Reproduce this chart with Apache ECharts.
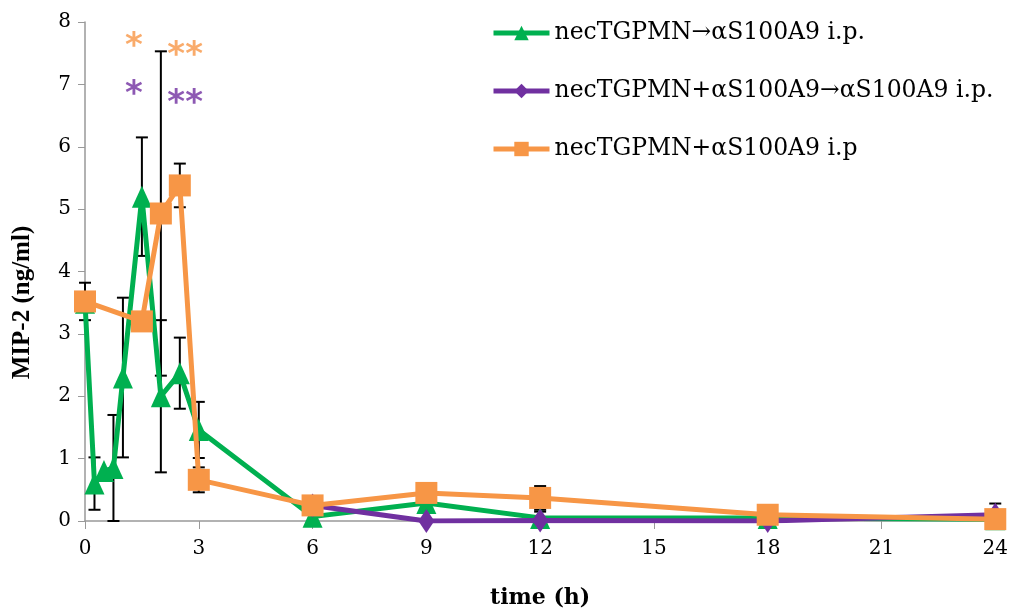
<!DOCTYPE html>
<html><head><meta charset="utf-8">
<script src="https://cdn.jsdelivr.net/npm/echarts@6/dist/echarts.min.js"></script>
<style>html,body{margin:0;padding:0;background:#fff}#c{width:1011px;height:614px}</style>
</head><body><div id="c"></div>
<script>
var seriesNames = ['necTGPMN→αS100A9 i.p.', 'necTGPMN+αS100A9→αS100A9 i.p.', 'necTGPMN+αS100A9 i.p'];
var greenTimes = [0, 0.25, 0.5, 0.75, 1, 1.5, 2, 2.5, 3, 6, 9, 12, 18, 24];
var greenVals  = [3.5, 0.6, 0.8, 0.85, 2.3, 5.2, 2.0, 2.37, 1.46, 0.07, 0.29, 0.05, 0.05, 0.03];
var greenErr   = [0, 0.42, 0, 0.85, 1.28, 0.95, 1.22, 0.57, 0.45, 0, 0, 0.1, 0, 0];
var purpleTimes = [6, 9, 12, 18, 24];
var purpleVals  = [0.25, 0.0, 0.01, 0.0, 0.1];
var purpleErr   = [0, 0, 0, 0, 0.18];
var orangeTimes = [0, 1.5, 2, 2.5, 3, 6, 9, 12, 18, 24];
var orangeVals  = [3.52, 3.2, 4.93, 5.38, 0.66, 0.25, 0.45, 0.37, 0.1, 0.03];
var orangeErr   = [0.3, 0, 2.6, 0.35, 0.2, 0, 0, 0.19, 0, 0];
var xTicks = [0, 3, 6, 9, 12, 15, 18, 21, 24];
var yTicks = [0, 1, 2, 3, 4, 5, 6, 7, 8];
var sigMarks = [
  {t: 1.29, v: 7.6, text: '*', color: '#F79646'},
  {t: 2.64, v: 7.45, text: '**', color: '#F79646'},
  {t: 1.29, v: 6.82, text: '*', color: '#7030A0'},
  {t: 2.64, v: 6.68, text: '**', color: '#7030A0'}
];
var colors = ['#00B050', '#7030A0', '#F79646'];
var FONT = 'DejaVu Serif';

function pts(t, v) { return t.map(function (x, i) { return [x, v[i]]; }); }
function errs(t, v, e) {
  var out = [];
  t.forEach(function (x, i) { if (e[i] > 0) out.push([x, v[i] - e[i], v[i] + e[i]]); });
  return out;
}
var errData = errs(greenTimes, greenVals, greenErr)
  .concat(errs(purpleTimes, purpleVals, purpleErr))
  .concat(errs(orangeTimes, orangeVals, orangeErr));

var chart = echarts.init(document.getElementById('c'), null, {renderer: 'canvas'});
chart.setOption({
  animation: false,
  backgroundColor: '#fff',
  color: colors,
  grid: {left: 85, right: 15, top: 22, bottom: 93},
  legend: {
    orient: 'vertical', left: 486, top: 16, itemWidth: 56, itemHeight: 18, itemGap: 34,
    data: seriesNames,
    lineStyle: {width: 5},
    textStyle: {fontFamily: FONT, fontSize: 23.5, color: '#000'}
  },
  xAxis: {
    type: 'value', min: 0, max: 24, interval: 3,
    name: 'time (h)', nameLocation: 'middle', nameGap: 66,
    nameTextStyle: {fontFamily: FONT, fontSize: 22, fontWeight: 'bold', color: '#000'},
    axisLine: {lineStyle: {color: '#999', width: 1.5}},
    axisTick: {show: true, inside: false, length: 8, lineStyle: {color: '#999'}},
    axisLabel: {fontFamily: FONT, fontSize: 20, color: '#000', margin: 18,
      formatter: function (v) { return xTicks.indexOf(v) >= 0 ? String(v) : ''; }},
    splitLine: {show: false}
  },
  yAxis: {
    type: 'value', min: 0, max: 8, interval: 1,
    name: 'MIP-2 (ng/ml)', nameLocation: 'middle', nameGap: 50, nameRotate: 90,
    nameTextStyle: {fontFamily: 'Liberation Serif', fontSize: 25, fontWeight: 'bold', color: '#000',
      padding: [0, 62, 0, 0]},
    axisLine: {show: true, lineStyle: {color: '#999', width: 1.5}},
    axisTick: {show: true, inside: false, length: 7, lineStyle: {color: '#999'}},
    axisLabel: {fontFamily: FONT, fontSize: 20, color: '#000', margin: 14,
      formatter: function (v) { return yTicks.indexOf(v) >= 0 ? String(v) : ''; }},
    splitLine: {show: false}
  },
  series: [
    {
      type: 'custom', name: 'err', z: 1, silent: true,
      renderItem: function (params, api) {
        var x = api.value(0), lo = api.value(1), hi = api.value(2);
        var p1 = api.coord([x, lo]), p2 = api.coord([x, hi]);
        var w = 6;
        var st = {stroke: '#000', lineWidth: 2};
        return {type: 'group', children: [
          {type: 'line', shape: {x1: p1[0], y1: p1[1], x2: p2[0], y2: p2[1]}, style: st},
          {type: 'line', shape: {x1: p1[0] - w, y1: p1[1], x2: p1[0] + w, y2: p1[1]}, style: st},
          {type: 'line', shape: {x1: p2[0] - w, y1: p2[1], x2: p2[0] + w, y2: p2[1]}, style: st}
        ]};
      },
      data: errData
    },
    {
      type: 'line', name: seriesNames[0], z: 2, data: pts(greenTimes, greenVals),
      symbol: 'triangle', symbolSize: [20, 22], lineStyle: {width: 5, color: colors[0]},
      itemStyle: {color: colors[0]}
    },
    {
      type: 'line', name: seriesNames[1], z: 3, data: pts(purpleTimes, purpleVals),
      symbol: 'diamond', symbolSize: [16, 24], lineStyle: {width: 5, color: colors[1]},
      itemStyle: {color: colors[1]}
    },
    {
      type: 'line', name: seriesNames[2], z: 4, data: pts(orangeTimes, orangeVals),
      symbol: 'rect', symbolSize: 22, lineStyle: {width: 5, color: colors[2]},
      itemStyle: {color: colors[2]}
    },
    {
      type: 'scatter', name: 'sig', z: 5, silent: true, symbolSize: 0,
      data: sigMarks.map(function (m) {
        return {value: [m.t, m.v], label: {show: true, position: 'inside', formatter: m.text,
          color: m.color, fontFamily: 'DejaVu Sans', fontSize: 34, fontWeight: 'bold'}};
      })
    }
  ]
});
</script></body></html>
